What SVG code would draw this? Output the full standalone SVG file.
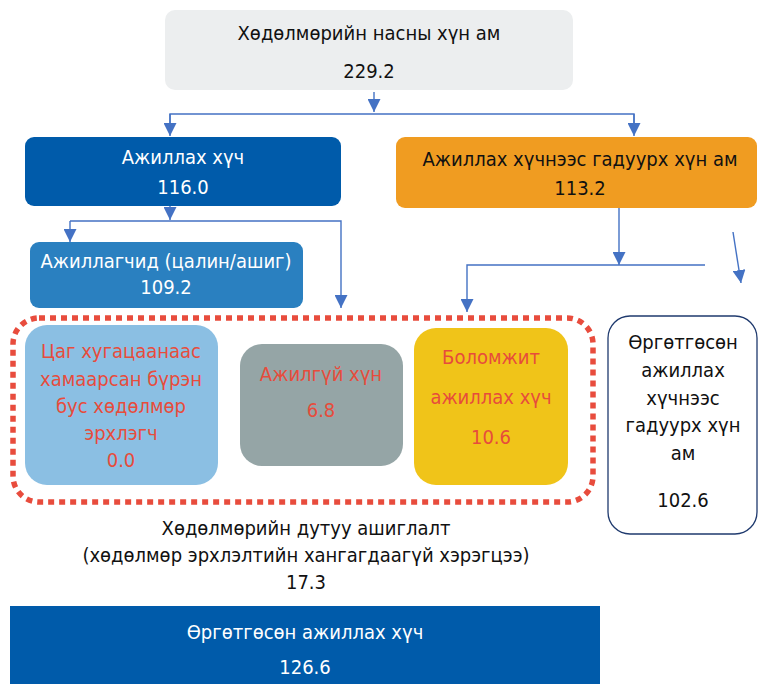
<svg xmlns="http://www.w3.org/2000/svg" width="763" height="684" viewBox="0 0 763 684">
<defs>
<marker id="ah" viewBox="0 0 10 10" refX="10" refY="5" markerWidth="13" markerHeight="13" markerUnits="userSpaceOnUse" orient="auto">
<path d="M0,0 L10,5 L0,10 z" fill="#4472c4"/>
</marker>
<style>
text{font-family:"DejaVu Sans Condensed","DejaVu Sans",sans-serif;font-size:20px;text-anchor:middle}
.w{fill:#ffffff}.k{fill:#111111}.r{fill:#e74c3c}
.c{fill:none;stroke:#4472c4;stroke-width:1.4}
</style>
</defs>
<rect x="0" y="0" width="763" height="684" fill="#ffffff"/>
<g id="connectors">
<path class="c" d="M374,92 V112" marker-end="url(#ah)"/>
<path class="c" d="M170,128 V114 H634 V128" />
<path class="c" d="M170,114 V136" marker-end="url(#ah)"/>
<path class="c" d="M634,114 V136" marker-end="url(#ah)"/>
<path class="c" d="M170,206 V220" marker-end="url(#ah)"/>
<path class="c" d="M70,221 H341 V308" marker-end="url(#ah)"/>
<path class="c" d="M70,221 V242" marker-end="url(#ah)"/>
<path class="c" d="M619,208 V265" marker-end="url(#ah)"/>
<path class="c" d="M705,265 H467 V312" marker-end="url(#ah)"/>
<path class="c" d="M733,232 L741,283" marker-end="url(#ah)"/>
</g>
<g id="working-age">
<rect x="165" y="10" width="408" height="80" rx="10" fill="#eceeef"/>
<text class="k" x="369" y="40">Хөдөлмөрийн насны хүн ам</text>
<text class="k" x="369" y="78">229.2</text>
</g>
<g id="labour-force">
<rect x="25" y="137" width="316" height="69" rx="9" fill="#005baa"/>
<text class="w" x="183" y="164">Ажиллах хүч</text>
<text class="w" x="183" y="194">116.0</text>
</g>
<g id="outside-labour-force">
<rect x="396" y="137" width="361" height="71" rx="9" fill="#f09c21"/>
<text class="k" x="580" y="166">Ажиллах хүчнээс гадуурх хүн ам</text>
<text class="k" x="580" y="195">113.2</text>
</g>
<g id="employed">
<rect x="30" y="242" width="273" height="66" rx="9" fill="#2a80c0"/>
<text class="w" x="166" y="268">Ажиллагчид (цалин/ашиг)</text>
<text class="w" x="166" y="294">109.2</text>
</g>
<g id="underutilization">
<rect x="13" y="318" width="580" height="184" rx="26" fill="none" stroke="#e84c3d" stroke-width="5.5" stroke-dasharray="6 5"/>
</g>
<g id="time-related">
<rect x="25" y="325" width="193" height="160" rx="22" fill="#8bbfe3"/>
<text class="r" x="121" y="358">Цаг хугацаанаас</text>
<text class="r" x="121" y="386">хамаарсан бүрэн</text>
<text class="r" x="121" y="413">бус хөдөлмөр</text>
<text class="r" x="121" y="440">эрхлэгч</text>
<text class="r" x="121" y="467">0.0</text>
</g>
<g id="unemployed">
<rect x="240" y="344" width="163" height="122" rx="22" fill="#95a5a6"/>
<text class="r" x="321" y="381">Ажилгүй хүн</text>
<text class="r" x="321" y="417">6.8</text>
</g>
<g id="potential">
<rect x="414" y="328" width="154" height="157" rx="22" fill="#f0c419"/>
<text class="r" x="491" y="364">Боломжит</text>
<text class="r" x="491" y="404">ажиллах хүч</text>
<text class="r" x="491" y="444">10.6</text>
</g>
<g id="extended-outside">
<rect x="608" y="316" width="149" height="218" rx="22" fill="#ffffff" stroke="#1f3a6e" stroke-width="1.3"/>
<text class="k" x="683" y="349">Өргөтгөсөн</text>
<text class="k" x="683" y="377">ажиллах</text>
<text class="k" x="683" y="405">хүчнээс</text>
<text class="k" x="683" y="432">гадуурх хүн</text>
<text class="k" x="683" y="460">ам</text>
<text class="k" x="683" y="507">102.6</text>
</g>
<g id="underutilization-label">
<text class="k" x="306" y="535">Хөдөлмөрийн дутуу ашиглалт</text>
<text class="k" x="306" y="562">(хөдөлмөр эрхлэлтийн хангагдаагүй хэрэгцээ)</text>
<text class="k" x="306" y="589">17.3</text>
</g>
<g id="extended-labour-force">
<rect x="10" y="606" width="590" height="78" fill="#005baa"/>
<text class="w" x="305" y="639">Өргөтгөсөн ажиллах хүч</text>
<text class="w" x="305" y="674">126.6</text>
</g>
</svg>
